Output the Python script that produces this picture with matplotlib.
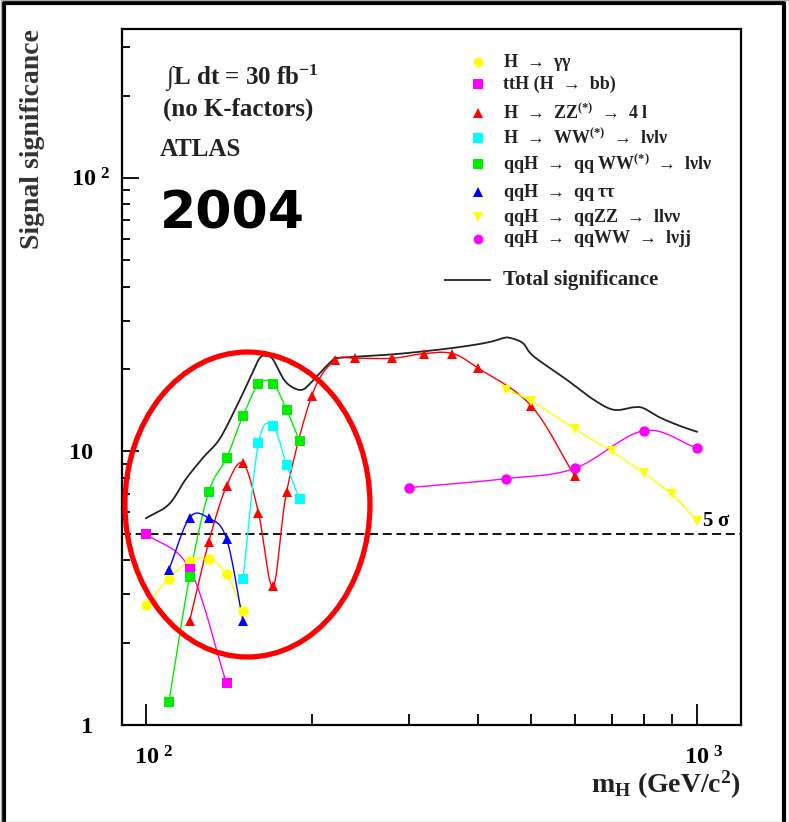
import numpy as np
import matplotlib.pyplot as plt
from matplotlib.patches import Ellipse
from matplotlib.lines import Line2D
from matplotlib.ticker import FixedLocator, FuncFormatter, NullFormatter
import matplotlib.transforms as mtransforms

plt.rcParams['font.family'] = ['Liberation Serif', 'DejaVu Serif']
plt.rcParams['font.weight'] = 'bold'
plt.rcParams['mathtext.fontset'] = 'custom'
plt.rcParams['mathtext.rm'] = 'Liberation Serif:bold'
plt.rcParams['mathtext.it'] = 'Liberation Serif:bold'
plt.rcParams['mathtext.bf'] = 'Liberation Serif:bold'

# Higgs mass (GeV) and significance per channel, 30 fb^-1
gg_mass = [100, 110, 120, 130, 140, 150]
gg_sig = [2.74, 3.43, 3.96, 4.06, 3.55, 2.62]

tth_mass = [100, 120, 140]
tth_sig = [5.0, 3.72, 1.42]

zz4l_mass = [120, 130, 140, 150, 160, 170, 180, 200, 220, 240, 280, 320, 360, 400, 500, 600]
zz4l_sig = [2.40, 4.67, 7.47, 9.04, 5.98, 3.21, 7.13, 16.0, 21.5, 21.9, 21.9, 22.8, 22.8, 20.2, 14.7, 8.13]

ww_mass = [150, 160, 170, 180, 190]
ww_sig = [3.43, 10.7, 12.4, 8.91, 6.68]

vbf_ww_mass = [110, 120, 130, 140, 150, 160, 170, 180, 190]
vbf_ww_sig = [1.21, 3.49, 7.11, 9.46, 13.5, 17.6, 17.7, 14.2, 10.9]

vbf_tautau_mass = [110, 120, 130, 140, 150]
vbf_tautau_sig = [3.69, 5.73, 5.70, 4.80, 2.40]

vbf_zz_mass = [450, 500, 600, 700, 800, 900, 1000]
vbf_zz_sig = [16.8, 15.3, 12.1, 10.0, 8.36, 6.97, 5.57]

vbf_wwjj_mass = [300, 450, 600, 800, 1000]
vbf_wwjj_sig = [7.37, 7.95, 8.67, 11.9, 10.3]

total_mass = [100, 110, 118, 127, 136, 146, 155, 161, 166, 170, 178, 185, 192, 198,
              207, 219, 225, 277, 318, 361, 403, 430, 446, 458, 483, 505, 580, 648,
              706, 767, 799, 857, 931, 1000]
total_sig = [5.7, 6.4, 7.9, 9.5, 11.1, 14.6, 18.8, 22.0, 22.3, 21.7, 18.3, 17.1, 16.8, 17.6,
             19.4, 21.7, 22.0, 22.6, 23.2, 23.9, 24.7, 25.4, 26.0, 26.0, 24.9, 22.3, 18.3, 15.5,
             14.2, 14.5, 14.4, 13.3, 12.4, 11.8]

discovery_sigma = 5

channels = [
    (gg_mass, gg_sig, 'o', '#ffff00', r'H  →  $\gamma\gamma$'),
    (tth_mass, tth_sig, 's', '#ff00ff', r'ttH (H  →  bb)'),
    (zz4l_mass, zz4l_sig, '^', '#ff0000', r'H  →  ZZ$^{(*)}$  →  4 l'),
    (ww_mass, ww_sig, 's', '#00ffff', r'H  →  WW$^{(*)}$  →  l$\nu$l$\nu$'),
    (vbf_ww_mass, vbf_ww_sig, 's', '#00ee00', r'qqH  →  qq WW$^{(*)}$  →  l$\nu$l$\nu$'),
    (vbf_tautau_mass, vbf_tautau_sig, '^', '#0000ff', r'qqH  →  qq $\tau\tau$'),
    (vbf_zz_mass, vbf_zz_sig, 'v', '#ffff00', r'qqH  →  qqZZ  →  ll$\nu\nu$'),
    (vbf_wwjj_mass, vbf_wwjj_sig, 'o', '#ff00ff', r'qqH  →  qqWW  →  l$\nu$jj'),
]
legend_rows = [0.9526, 0.921, 0.8793, 0.8434, 0.806, 0.7658, 0.7299, 0.6983]


def smooth_curve(xs, ys, n=24):
    # Catmull-Rom through the points in log-log space
    lx = np.log10(np.asarray(xs, dtype=float))
    ly = np.log10(np.asarray(ys, dtype=float))
    if len(lx) < 3:
        return 10 ** lx, 10 ** ly
    px = np.concatenate([[2 * lx[0] - lx[1]], lx, [2 * lx[-1] - lx[-2]]])
    py = np.concatenate([[2 * ly[0] - ly[1]], ly, [2 * ly[-1] - ly[-2]]])
    out_x, out_y = [], []
    t = np.linspace(0, 1, n, endpoint=False)
    for i in range(1, len(px) - 2):
        for p, out in ((px, out_x), (py, out_y)):
            p0, p1, p2, p3 = p[i - 1], p[i], p[i + 1], p[i + 2]
            out.extend(0.5 * (2 * p1 + (-p0 + p2) * t
                              + (2 * p0 - 5 * p1 + 4 * p2 - p3) * t ** 2
                              + (-p0 + 3 * p1 - 3 * p2 + p3) * t ** 3))
    out_x.append(lx[-1])
    out_y.append(ly[-1])
    return 10 ** np.array(out_x), 10 ** np.array(out_y)


fig = plt.figure(figsize=(7.89, 8.22), dpi=100)
ax = fig.add_axes([0.1546, 0.118, 0.7845, 0.8467])
ax.set_xscale('log')
ax.set_yscale('log')
ax.set_xlim(90.45, 1202)
ax.set_ylim(1, 350)

ax.plot(*smooth_curve(total_mass, total_sig), color='#222222', lw=1.3, zorder=3)

for mass, sig, marker, color, label in channels:
    ax.plot(*smooth_curve(mass, sig), color=color, lw=1.0, zorder=4)
    ax.plot(mass, sig, ls='none', marker=marker, ms=7.5, color=color,
            markeredgewidth=0, zorder=5)

ax.axhline(discovery_sigma, color='black', lw=1.3, ls=(0, (5, 2.6)), zorder=2)
trans = mtransforms.blended_transform_factory(ax.transAxes, ax.transData)
ax.text(0.937, discovery_sigma * 1.02, r'5 $\sigma$', transform=trans,
        fontsize=15, ha='left', va='bottom')

# axis ticks drawn inside, on left and bottom only
ax.tick_params(which='both', direction='in', top=False, right=False, width=1.3)
ax.tick_params(axis='x', which='major', length=15, pad=15, labelsize=17.5)
ax.tick_params(axis='x', which='minor', length=8)
ax.tick_params(axis='y', which='major', length=12, pad=21, labelsize=17.5)
ax.tick_params(axis='y', which='minor', length=6)
ax.xaxis.set_major_locator(FixedLocator([100, 1000]))
ax.xaxis.set_minor_locator(FixedLocator([200, 300, 400, 500, 600, 700, 800, 900]))
ax.yaxis.set_major_locator(FixedLocator([1, 10, 100]))
ax.yaxis.set_minor_locator(FixedLocator([2, 3, 4, 5, 6, 7, 8, 9, 20, 30, 40, 50, 60, 70, 80, 90, 200, 300]))


def power_label(v, pos):
    exp = int(round(np.log10(v)))
    if exp == 0:
        return '1'
    if exp == 1:
        return '10'
    return r'10$^{\ %d}$' % exp


ax.xaxis.set_major_formatter(FuncFormatter(power_label))
ax.yaxis.set_major_formatter(FuncFormatter(power_label))
ax.xaxis.set_minor_formatter(NullFormatter())
ax.yaxis.set_minor_formatter(NullFormatter())
# keep the mantissa aligned with the tick, letting the exponent stick out
shift_x = mtransforms.ScaledTranslation(7 / 100, 0, fig.dpi_scale_trans)
for lbl in ax.get_xticklabels():
    lbl.set_transform(lbl.get_transform() + shift_x)
shift_y = mtransforms.ScaledTranslation(17 / 100, 0, fig.dpi_scale_trans)
ylabels = ax.get_yticklabels()
ylabels[2].set_transform(ylabels[2].get_transform() + shift_y)
for spine in ax.spines.values():
    spine.set_linewidth(1.6)

ax.text(-0.145, 1.0, 'Signal significance', transform=ax.transAxes, rotation=90,
        ha='center', va='top', fontsize=20, color='#333333')
ax.text(1.0, -0.098, r'm$_{\rm H}$ (GeV/c$^{2}$)', transform=ax.transAxes,
        ha='right', va='baseline', fontsize=20, color='#222222')

# run conditions and label
ax.text(0.0695, 0.9195, r'$\int$L dt = 30 fb$^{-1}$', transform=ax.transAxes,
        fontsize=18, va='baseline', color='#222222')
ax.text(0.066, 0.876, '(no K-factors)', transform=ax.transAxes,
        fontsize=18, va='baseline', color='#222222')
ax.text(0.061, 0.8175, 'ATLAS', transform=ax.transAxes,
        fontsize=18, va='baseline', color='#222222')
ax.text(0.061, 0.714, '2004', transform=ax.transAxes, family='DejaVu Sans',
        fontsize=37.5, fontweight='bold', va='baseline', color='black')

# legend
for (mass, sig, marker, color, label), row in zip(channels, legend_rows):
    ax.plot([0.575], [row], transform=ax.transAxes, ls='none', marker=marker,
            ms=7, color=color, markeredgewidth=0, clip_on=False)
    ax.text(0.6155, row, label, transform=ax.transAxes, fontsize=13,
            va='center', ha='left', color='#222222')
ax.plot([0.5218, 0.5945], [0.6394, 0.6394], transform=ax.transAxes,
        color='#222222', lw=1.3)
ax.text(0.6155, 0.6394, 'Total significance', transform=ax.transAxes,
        fontsize=15, va='center', ha='left', color='#222222')

# highlight of the low-mass region
ax.add_patch(Ellipse((0.2027, 0.3168), 0.3958, 0.4382, transform=ax.transAxes,
                     fill=False, edgecolor='#ff0000', lw=3.8, zorder=10, clip_on=False))

# page frame
W, H = 789.0, 822.0
fig.add_artist(Line2D([3.5 / W, 3.5 / W, 783.5 / W, 783.5 / W],
                      [0.0, 1 - 3.5 / H, 1 - 3.5 / H, 0.0],
                      transform=fig.transFigure, color='black', lw=3))
fig.add_artist(Line2D([0.5 / W, 0.5 / W, 788.5 / W, 788.5 / W, 0.5 / W],
                      [0.5 / H, 1 - 0.5 / H, 1 - 0.5 / H, 0.5 / H, 0.5 / H],
                      transform=fig.transFigure, color='#aaaaaa', lw=1))

fig.savefig('out.png', dpi=100)
